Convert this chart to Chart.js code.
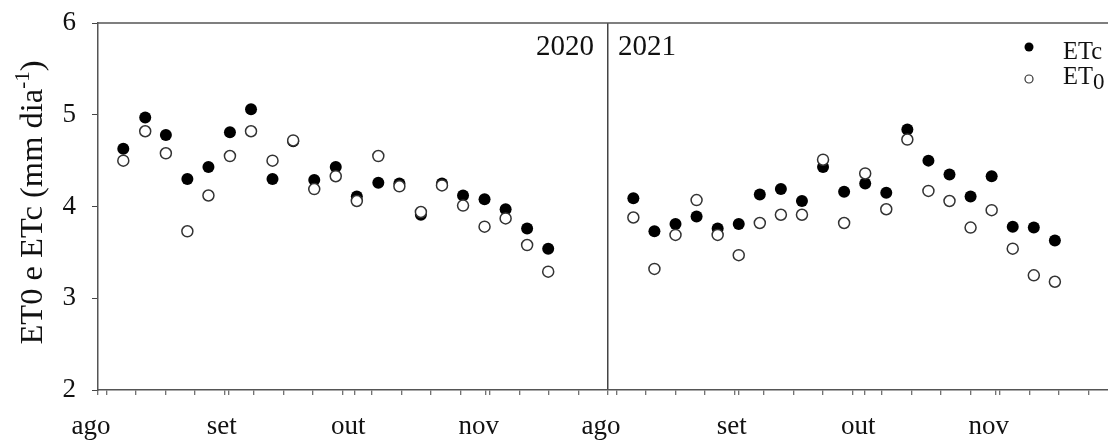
<!DOCTYPE html>
<html>
<head>
<meta charset="utf-8">
<script src="https://cdn.jsdelivr.net/npm/chart.js@4.4.1/dist/chart.umd.min.js"></script>
<style>
  html, body { margin: 0; padding: 0; background: #fff; }
  #wrap { width: 1108px; height: 441px; }
</style>
</head>
<body>
<div id="wrap"><canvas id="etChart" width="1108" height="441"></canvas></div>
<script>
// ===================== DATA =====================
// x = days counted from 1 Aug of each season
const MONTHS = ['ago', 'set', 'out', 'nov'];
const MONTH_START_DAYS = [0, 31, 61, 92];
const PANEL_DAYS = 121;        // width of one season panel (days)
const X_MAX = 239.6;           // right panel is cut by the picture edge
const WEEK_TICK_START = 2;
const YEARS = ['2020', '2021'];
const Y_TICKS = [2, 3, 4, 5, 6];

const days2020 = [6, 11.2, 16.1, 21.2, 26.2, 31.3, 36.3, 41.4, 46.3, 51.3, 56.4, 61.4, 66.5, 71.5, 76.6, 81.6, 86.6, 91.7, 96.7, 101.8, 106.8];
const etc2020  = [4.63, 4.97, 4.78, 4.30, 4.43, 4.81, 5.06, 4.30, 4.71, 4.29, 4.43, 4.11, 4.26, 4.25, 3.91, 4.25, 4.12, 4.08, 3.97, 3.76, 3.54];
const et0_2020 = [4.50, 4.82, 4.58, 3.73, 4.12, 4.55, 4.82, 4.50, 4.72, 4.19, 4.33, 4.06, 4.55, 4.22, 3.94, 4.23, 4.01, 3.78, 3.87, 3.58, 3.29];

const days2021 = [6, 11, 16, 21, 26, 31, 36, 41, 46, 51, 56, 61, 66, 71, 76, 81, 86, 91, 96, 101, 106];
const etc2021  = [4.09, 3.73, 3.81, 3.89, 3.76, 3.81, 4.13, 4.19, 4.06, 4.43, 4.16, 4.25, 4.15, 4.84, 4.50, 4.35, 4.11, 4.33, 3.78, 3.77, 3.63];
const et0_2021 = [3.88, 3.32, 3.69, 4.07, 3.69, 3.47, 3.82, 3.91, 3.91, 4.51, 3.82, 4.36, 3.97, 4.73, 4.17, 4.06, 3.77, 3.96, 3.54, 3.25, 3.18];

const FONT = "'Liberation Serif', 'Times New Roman', serif";
const AXIS_COLOR = '#555';

// ===================== HELPERS =====================
function toPoints(days, values, offset) {
  return days.map((d, i) => ({ x: d + offset, y: values[i] }));
}

// month ticks + weekly minor ticks for both panels
function buildXTicks() {
  const ticks = [];
  [0, PANEL_DAYS].forEach(off => {
    MONTH_START_DAYS.forEach(d => ticks.push(off + d));
    for (let d = WEEK_TICK_START; d < PANEL_DAYS; d += 7) {
      if (off + d <= X_MAX) ticks.push(off + d);
    }
  });
  return ticks.sort((a, b) => a - b).map(v => ({ value: v }));
}

function monthLabel(value) {
  const local = value >= PANEL_DAYS ? value - PANEL_DAYS : value;
  const idx = MONTH_START_DAYS.indexOf(local);
  return idx >= 0 ? MONTHS[idx] : '';
}

// draws text pieces with sub/superscripts, starting at x on baseline y
function drawPieces(ctx, pieces, x, y) {
  pieces.forEach(p => {
    ctx.font = p.size + 'px ' + FONT;
    ctx.fillText(p.text, x, y + (p.dy || 0));
    x += ctx.measureText(p.text).width;
  });
}

function piecesWidth(ctx, pieces) {
  let w = 0;
  pieces.forEach(p => {
    ctx.font = p.size + 'px ' + FONT;
    w += ctx.measureText(p.text).width;
  });
  return w;
}

// ===================== DECORATION PLUGIN =====================
const decorPlugin = {
  id: 'decor',
  afterDraw(chart) {
    const { ctx, chartArea: area, scales } = chart;
    const xs = scales.x;
    ctx.save();

    // top frame line
    ctx.strokeStyle = AXIS_COLOR;
    ctx.lineWidth = 1.5;
    ctx.beginPath();
    ctx.moveTo(area.left, area.top);
    ctx.lineTo(area.right, area.top);
    ctx.stroke();

    // year labels next to the divider
    const divX = xs.getPixelForValue(PANEL_DAYS);
    ctx.fillStyle = '#111';
    ctx.font = '29px ' + FONT;
    ctx.textBaseline = 'alphabetic';
    ctx.textAlign = 'right';
    ctx.fillText(YEARS[0], divX - 14, area.top + 32);
    ctx.textAlign = 'left';
    ctx.fillText(YEARS[1], divX + 10, area.top + 32);

    // legend
    const lx = area.right - 79;
    ctx.fillStyle = '#000';
    ctx.beginPath();
    ctx.arc(lx, area.top + 24, 4.5, 0, Math.PI * 2);
    ctx.fill();
    ctx.fillStyle = '#fff';
    ctx.strokeStyle = '#333';
    ctx.lineWidth = 1.2;
    ctx.beginPath();
    ctx.arc(lx, area.top + 56, 4, 0, Math.PI * 2);
    ctx.fill();
    ctx.stroke();
    ctx.fillStyle = '#111';
    ctx.textAlign = 'left';
    drawPieces(ctx, [{ text: 'ETc', size: 24.5 }], lx + 34, area.top + 36);
    drawPieces(ctx, [{ text: 'ET', size: 24.5 }, { text: '0', size: 23, dy: 5 }], lx + 34, area.top + 61);

    // y axis title (rotated)
    const title = [
      { text: 'ET0 e ETc (mm dia', size: 32.5 },
      { text: '-1', size: 21, dy: -13 },
      { text: ')', size: 32.5 }
    ];
    const midY = (area.top + area.bottom) / 2 - 4;
    ctx.translate(42, midY);
    ctx.rotate(-Math.PI / 2);
    const w = piecesWidth(ctx, title);
    drawPieces(ctx, title, -w / 2, 0);

    ctx.restore();
  }
};

// ===================== CHART =====================
const etcData = toPoints(days2020, etc2020, 0).concat(toPoints(days2021, etc2021, PANEL_DAYS));
const et0Data = toPoints(days2020, et0_2020, 0).concat(toPoints(days2021, et0_2021, PANEL_DAYS));

new Chart(document.getElementById('etChart'), {
  type: 'scatter',
  data: {
    datasets: [
      {
        label: 'ETc',
        data: etcData,
        order: 2,
        pointRadius: 6,
        pointBackgroundColor: '#000',
        pointBorderColor: '#000',
        pointBorderWidth: 0
      },
      {
        label: 'ET0',
        data: et0Data,
        order: 1,
        pointRadius: 5.5,
        pointBackgroundColor: '#fff',
        pointBorderColor: '#333',
        pointBorderWidth: 1.5
      }
    ]
  },
  options: {
    responsive: false,
    animation: false,
    devicePixelRatio: 1,
    layout: { autoPadding: false, padding: { top: 23, right: 0, left: 0, bottom: 0 } },
    plugins: {
      legend: { display: false },
      tooltip: { enabled: false }
    },
    scales: {
      x: {
        type: 'linear',
        min: 0,
        max: X_MAX,
        afterBuildTicks: scale => { scale.ticks = buildXTicks(); },
        afterFit: scale => {
          scale.height = 51;
          scale.paddingLeft = 0;
          scale.paddingRight = 0;
        },
        border: { display: true, color: AXIS_COLOR, width: 1.5 },
        grid: {
          drawOnChartArea: true,
          drawTicks: true,
          tickLength: 5,
          lineWidth: 1.5,
          color: c => (c.tick && c.tick.value === PANEL_DAYS ? '#444' : 'rgba(0,0,0,0)'),
          tickColor: '#444',
          tickWidth: 1
        },
        ticks: {
          autoSkip: false,
          maxRotation: 0,
          minRotation: 0,
          padding: 16,
          labelOffset: -7,
          color: '#111',
          font: { family: FONT, size: 27 },
          callback: v => monthLabel(v)
        }
      },
      y: {
        min: 2,
        max: 6,
        afterBuildTicks: scale => { scale.ticks = Y_TICKS.map(v => ({ value: v })); },
        afterFit: scale => {
          scale.width = 98;
          scale.paddingTop = 0;
          scale.paddingBottom = 0;
        },
        border: { display: true, color: AXIS_COLOR, width: 1.5 },
        grid: {
          drawOnChartArea: false,
          drawTicks: true,
          tickLength: 6,
          tickColor: '#444'
        },
        ticks: {
          padding: 16,
          color: '#111',
          font: { family: FONT, size: 27 }
        }
      }
    }
  },
  plugins: [decorPlugin]
});
</script>
</body>
</html>
